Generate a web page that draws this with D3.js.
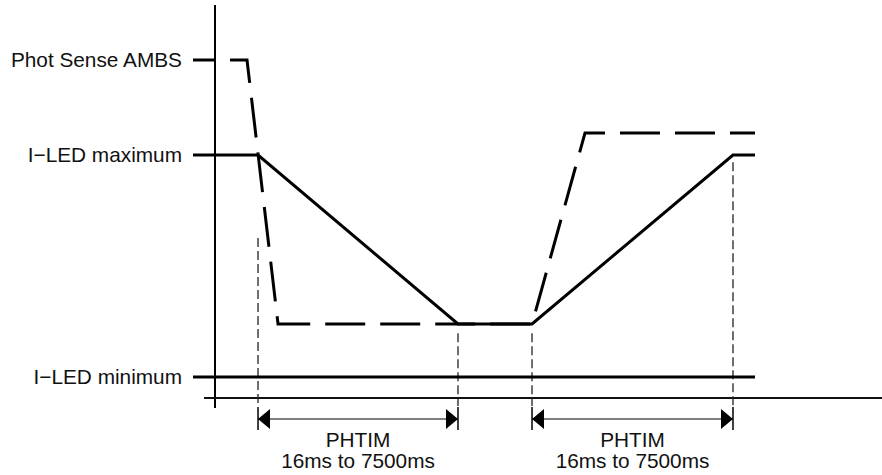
<!DOCTYPE html>
<html>
<head>
<meta charset="utf-8">
<script src="https://cdn.jsdelivr.net/npm/d3@7"></script>
<style>
  html, body { margin: 0; padding: 0; background: #fff; }
  text { font-family: "Liberation Sans", Arial, Helvetica, sans-serif; fill: #111; }
</style>
</head>
<body>
<div id="chart"></div>
<script>
// time axis in arbitrary units, levels in arbitrary units
const photTime = [-3.3, 4.8, 9.45, 47.53, 55.47, 80.96];
const photLevel = [86.0, 86.0, 18.83, 18.83, 67.43, 67.43];

const ledTime = [-3.3, 6.45, 36.43, 47.53, 77.66, 80.96];
const ledLevel = [61.83, 61.83, 18.83, 18.83, 61.83, 61.83];

const minTime = [-3.3, 80.96];
const minLevel = [5.34, 5.34];

const labelNames = ['Phot Sense AMBS', 'I\u2212LED maximum', 'I\u2212LED minimum'];
const labelLevels = [86.0, 61.83, 5.34];

const guideTime = [6.45, 36.43, 47.53, 77.66];
const guideTop = [40.7, 16.5, 16.5, 60.0];

const spanStart = [6.45, 47.53];
const spanEnd = [36.43, 77.66];
const spanTitle = ['PHTIM', 'PHTIM'];
const spanRange = ['16ms to 7500ms', '16ms to 7500ms'];

const width = 882;
const height = 475;
const fontSize = '20.8px';

const x = d3.scaleLinear().domain([0, 100]).range([215, 882]);
const y = d3.scaleLinear().domain([0, 100]).range([398, 5]);

const svg = d3.select('#chart')
  .append('svg')
  .attr('width', width)
  .attr('height', height);

const line = d3.line()
  .x(d => x(d[0]))
  .y(d => y(d[1]));

// axes
svg.append('line')
  .attr('x1', x(0)).attr('x2', x(0))
  .attr('y1', y(100)).attr('y2', y(0) + 10)
  .attr('stroke', '#000')
  .attr('stroke-width', 2);

svg.append('line')
  .attr('x1', x(0) - 11).attr('x2', x(100))
  .attr('y1', y(0)).attr('y2', y(0))
  .attr('stroke', '#111')
  .attr('stroke-width', 1.8);

// guides
svg.selectAll('.guide')
  .data(guideTime)
  .enter().append('line')
  .attr('class', 'guide')
  .attr('x1', d => x(d)).attr('x2', d => x(d))
  .attr('y1', (d, i) => y(guideTop[i]))
  .attr('y2', y(0) + 8)
  .attr('stroke', '#222')
  .attr('stroke-width', 1.3)
  .attr('stroke-dasharray', '9,4');

// level lines
svg.append('path')
  .attr('d', line(minTime.map((t, i) => [t, minLevel[i]])))
  .attr('fill', 'none')
  .attr('stroke', '#000')
  .attr('stroke-width', 3);

svg.append('path')
  .attr('d', line(photTime.map((t, i) => [t, photLevel[i]])))
  .attr('fill', 'none')
  .attr('stroke', '#000')
  .attr('stroke-width', 3)
  .attr('stroke-dasharray', '40,15')
  .attr('stroke-dashoffset', 18);

svg.append('path')
  .attr('d', line(ledTime.map((t, i) => [t, ledLevel[i]])))
  .attr('fill', 'none')
  .attr('stroke', '#000')
  .attr('stroke-width', 3)
  .attr('stroke-linejoin', 'miter');

// labels
svg.selectAll('.label')
  .data(labelNames)
  .enter().append('text')
  .attr('class', 'label')
  .attr('x', x(-3.3) - 11)
  .attr('y', (d, i) => y(labelLevels[i]))
  .attr('dy', '0.35em')
  .attr('text-anchor', 'end')
  .style('font-size', fontSize)
  .text(d => d);

// spans
const arrowY = y(0) + 21;
const spans = svg.selectAll('.span')
  .data(spanStart)
  .enter().append('g')
  .attr('class', 'span');

spans.append('line')
  .attr('x1', d => x(d)).attr('x2', (d, i) => x(spanEnd[i]))
  .attr('y1', arrowY).attr('y2', arrowY)
  .attr('stroke', '#000')
  .attr('stroke-width', 1.2);

spans.append('path')
  .attr('d', d => `M${x(d)},${arrowY}L${x(d) + 12},${arrowY - 10}L${x(d) + 12},${arrowY + 10}Z`)
  .attr('fill', '#000');

spans.append('path')
  .attr('d', (d, i) => {
    const e = x(spanEnd[i]);
    return `M${e},${arrowY}L${e - 12},${arrowY - 10}L${e - 12},${arrowY + 10}Z`;
  })
  .attr('fill', '#000');

spans.selectAll('.tick')
  .data((d, i) => [d, spanEnd[i]])
  .enter().append('line')
  .attr('class', 'tick')
  .attr('x1', d => x(d)).attr('x2', d => x(d))
  .attr('y1', arrowY - 12).attr('y2', arrowY + 11)
  .attr('stroke', '#000')
  .attr('stroke-width', 1.5);

spans.append('text')
  .attr('x', (d, i) => (x(d) + x(spanEnd[i])) / 2)
  .attr('y', arrowY + 28)
  .attr('text-anchor', 'middle')
  .style('font-size', fontSize)
  .text((d, i) => spanTitle[i]);

spans.append('text')
  .attr('x', (d, i) => (x(d) + x(spanEnd[i])) / 2)
  .attr('y', arrowY + 49)
  .attr('text-anchor', 'middle')
  .style('font-size', fontSize)
  .text((d, i) => spanRange[i]);
</script>
</body>
</html>
